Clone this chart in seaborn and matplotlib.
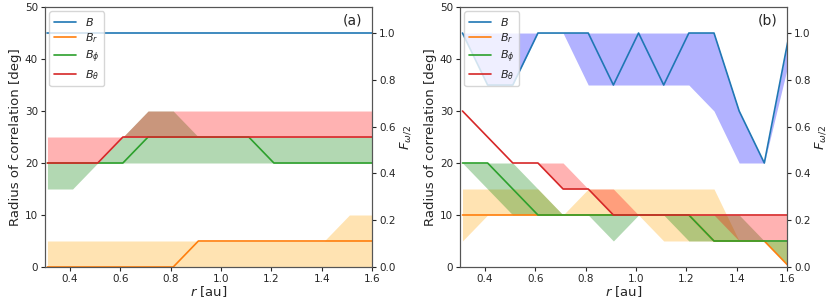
import numpy as np
import pandas as pd
import matplotlib
matplotlib.use("Agg")
import matplotlib.pyplot as plt
import seaborn as sns

# ---------------- data ----------------
r = [0.31, 0.41, 0.51, 0.61, 0.71, 0.81, 0.91, 1.01, 1.11, 1.21, 1.31, 1.41, 1.51, 1.61]

# panel (a)
a_B = [45, 45, 45, 45, 45, 45, 45, 45, 45, 45, 45, 45, 45, 45]
a_B_lo = [45, 45, 45, 45, 45, 45, 45, 45, 45, 45, 45, 45, 45, 45]
a_B_hi = [45, 45, 45, 45, 45, 45, 45, 45, 45, 45, 45, 45, 45, 45]
a_Br = [0, 0, 0, 0, 0, 0, 5, 5, 5, 5, 5, 5, 5, 5]
a_Br_lo = [0, 0, 0, 0, 0, 0, 0, 0, 0, 0, 0, 0, 0, 0]
a_Br_hi = [5, 5, 5, 5, 5, 5, 5, 5, 5, 5, 5, 5, 10, 10]
a_Bphi = [20, 20, 20, 20, 25, 25, 25, 25, 25, 20, 20, 20, 20, 20]
a_Bphi_lo = [15, 15, 20, 20, 20, 20, 20, 20, 20, 20, 20, 20, 20, 20]
a_Bphi_hi = [20, 20, 20, 25, 30, 30, 25, 25, 25, 25, 25, 25, 25, 25]
a_Bth = [20, 20, 20, 25, 25, 25, 25, 25, 25, 25, 25, 25, 25, 25]
a_Bth_lo = [20, 20, 20, 25, 25, 25, 25, 25, 25, 25, 25, 25, 25, 25]
a_Bth_hi = [25, 25, 25, 25, 30, 30, 30, 30, 30, 30, 30, 30, 30, 30]

# panel (b)
b_B = [45, 35, 35, 45, 45, 45, 35, 45, 35, 45, 45, 30, 20, 45]
b_B_lo = [45, 35, 35, 45, 45, 35, 35, 35, 35, 35, 30, 20, 20, 40]
b_B_hi = [45, 45, 45, 45, 45, 45, 45, 45, 45, 45, 45, 30, 20, 45]
b_Br = [10, 10, 10, 10, 10, 10, 10, 10, 10, 10, 5, 5, 5, 0]
b_Br_lo = [5, 10, 10, 10, 10, 10, 10, 10, 5, 5, 5, 5, 5, 0]
b_Br_hi = [15, 15, 15, 15, 10, 15, 15, 15, 15, 15, 15, 5, 5, 5]
b_Bphi = [20, 20, 15, 10, 10, 10, 10, 10, 10, 10, 5, 5, 5, 5]
b_Bphi_lo = [20, 15, 10, 10, 10, 10, 5, 10, 10, 5, 5, 5, 5, 0]
b_Bphi_hi = [20, 20, 20, 15, 10, 10, 10, 10, 10, 10, 10, 10, 5, 5]
b_Bth = [30, 25, 20, 20, 15, 15, 10, 10, 10, 10, 10, 10, 10, 10]
b_Bth_lo = [30, 25, 20, 20, 15, 15, 10, 10, 10, 10, 10, 5, 5, 5]
b_Bth_hi = [30, 25, 20, 20, 20, 15, 15, 10, 10, 10, 10, 10, 10, 10]

labels = [r"$B$", r"$B_r$", r"$B_\phi$", r"$B_\theta$"]
line_colors = ["#1f77b4", "#ff7f0e", "#2ca02c", "#d62728"]
fill_colors = ["blue", "orange", "green", "red"]
panel_tags = ["(a)", "(b)"]

panels = [
    [(a_B, a_B_lo, a_B_hi), (a_Br, a_Br_lo, a_Br_hi),
     (a_Bphi, a_Bphi_lo, a_Bphi_hi), (a_Bth, a_Bth_lo, a_Bth_hi)],
    [(b_B, b_B_lo, b_B_hi), (b_Br, b_Br_lo, b_Br_hi),
     (b_Bphi, b_Bphi_lo, b_Bphi_hi), (b_Bth, b_Bth_lo, b_Bth_hi)],
]

# ---------------- plot ----------------
sns.set_style("ticks")
plt.rcParams["font.family"] = ["DejaVu Sans"]
plt.rcParams["mathtext.fontset"] = "dejavusans"

fig = plt.figure(figsize=(8.31, 3.06), dpi=100)
ax_pos = [[0.054, 0.1275, 0.3937, 0.8495], [0.5535, 0.1275, 0.3935, 0.8495]]

TICK_FS = 7.5
LAB_FS = 9.5
LEG_FS = 8

for p, (series, pos, tag) in enumerate(zip(panels, ax_pos, panel_tags)):
    ax = fig.add_axes(pos)
    # bands
    for (y, lo, hi), fc in zip(series, fill_colors):
        ax.fill_between(r, lo, hi, color=fc, alpha=0.3, linewidth=0)
    # lines
    for (y, lo, hi), lc, lab in zip(series, line_colors, labels):
        df = pd.DataFrame({"r": r, "v": y})
        sns.lineplot(data=df, x="r", y="v", ax=ax, color=lc, linewidth=1.2,
                     label=lab, legend=False)
    ax.set_xlim(0.3, 1.6)
    ax.set_ylim(0, 50)
    ax.set_xticks([0.4, 0.6, 0.8, 1.0, 1.2, 1.4, 1.6])
    ax.set_yticks([0, 10, 20, 30, 40, 50])
    ax.tick_params(labelsize=TICK_FS, length=3, width=0.8, pad=2)
    ax.set_xlabel(r"$r$ [au]", fontsize=LAB_FS, labelpad=0)
    ax.set_ylabel("Radius of correlation [deg]", fontsize=LAB_FS, labelpad=2)
    lines = ax.get_lines()
    ax.legend(lines, labels, loc="upper left", fontsize=LEG_FS,
              frameon=True, borderaxespad=0.4, handlelength=2.0,
              labelspacing=0.3, borderpad=0.4)
    ax.text(0.97, 0.975, tag, transform=ax.transAxes, ha="right", va="top",
            fontsize=10)
    for s in ax.spines.values():
        s.set_linewidth(0.8)
        s.set_color("#555555")

    ax2 = ax.twinx()
    ax2.set_ylim(0, 50 / 45)
    ax2.set_yticks([0.0, 0.2, 0.4, 0.6, 0.8, 1.0])
    ax2.set_yticklabels(["0.0", "0.2", "0.4", "0.6", "0.8", "1.0"])
    ax2.tick_params(labelsize=TICK_FS, length=3, width=0.8, pad=2)
    ax2.set_ylabel(r"$F_{\omega/2}$", fontsize=LAB_FS, labelpad=2)
    for s in ax2.spines.values():
        s.set_linewidth(0.8)
        s.set_color("#555555")

fig.savefig("out.png", dpi=100)
